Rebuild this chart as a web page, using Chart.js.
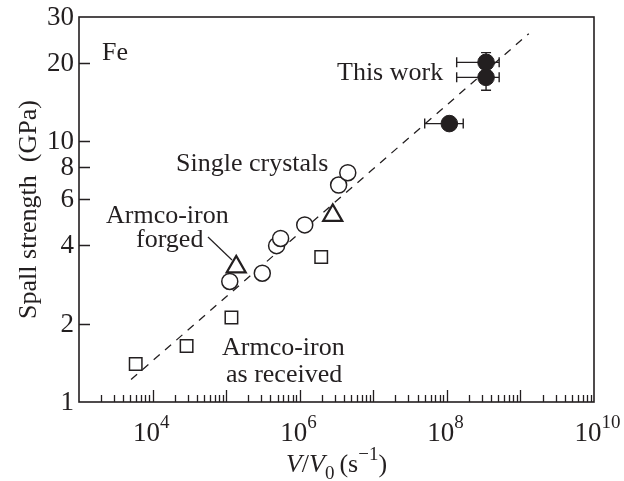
<!DOCTYPE html>
<html>
<head>
<meta charset="utf-8">
<script src="https://cdn.jsdelivr.net/npm/chart.js@4/dist/chart.umd.min.js"></script>
<style>
  html, body { margin: 0; padding: 0; background: #fff; }
  #wrap { width: 624px; height: 481px; }
</style>
</head>
<body>
<div id="wrap"><canvas id="c" width="624" height="481"></canvas></div>
<script>
// Spall strength of iron versus strain rate V/V0 (log-log)

// Single crystals
const crystalRate = [1.12e5, 3.1e5, 4.85e5, 5.5e5, 1.17e6, 3.38e6, 4.5e6];
const crystalStrength = [2.9, 3.12, 3.98, 4.24, 4.78, 6.8, 7.58];

// Armco-iron, forged
const forgedRate = [1.37e5, 2.81e6];
const forgedStrength = [3.3, 5.2];

// Armco-iron, as received
const receivedRate = [5.9e3, 2.9e4, 1.18e5, 1.96e6];
const receivedStrength = [1.40, 1.64, 2.11, 3.6];

// This work, with error ranges
const workRate = [3.41e8, 3.41e8, 1.08e8];
const workStrength = [20.1, 17.6, 11.7];
const workRateLow = [1.36e8, 1.36e8, 5.0e7];
const workRateHigh = [5.14e8, 5.14e8, 1.67e8];
const workStrengthLow = [18.2, 15.7, 11.7];
const workStrengthHigh = [21.9, 19.4, 11.7];

// Dashed trend line end points
const trendRate = [5.1e3, 1.3e9];
const trendStrength = [1.22, 25.9];

// Axis ticks
const yTickValues = [1, 2, 4, 6, 8, 10, 20, 30];
const yTickLabels = ['1', '2', '4', '6', '8', '10', '20', '30'];
const xTickValues = [1e4, 1e6, 1e8, 1e10];
const xTickExponents = ['4', '6', '8', '10'];
const xDecades = [1e3, 1e4, 1e5, 1e6, 1e7, 1e8, 1e9, 1e10];
const minorSteps = [2, 3, 4, 5, 6, 7, 8, 9];

const ink = '#231f20';
const serif = "'Liberation Serif', 'Times New Roman', serif";

const toPoints = (xs, ys) => xs.map((x, i) => ({ x: x, y: ys[i] }));

// Draw a run of text pieces (plain, italic, super/subscript) from a left x
function runWidth(ctx, parts) {
  let w = 0;
  for (const p of parts) {
    ctx.font = (p.italic ? 'italic ' : '') + p.size + 'px ' + serif;
    w += ctx.measureText(p.t).width + (p.gap || 0);
  }
  return w;
}
function drawRun(ctx, parts, x, y) {
  for (const p of parts) {
    ctx.font = (p.italic ? 'italic ' : '') + p.size + 'px ' + serif;
    ctx.fillText(p.t, x, y + (p.dy || 0));
    x += ctx.measureText(p.t).width + (p.gap || 0);
  }
}

const figurePlugin = {
  id: 'figureDecor',
  beforeDatasetsDraw(chart) {
    const { ctx, scales: { x: xs, y: ys } } = chart;
    ctx.save();
    ctx.strokeStyle = ink;
    ctx.lineWidth = 1.4;
    const cap = 5;
    for (let i = 0; i < workRate.length; i++) {
      const py = ys.getPixelForValue(workStrength[i]);
      const px = xs.getPixelForValue(workRate[i]);
      const xl = xs.getPixelForValue(workRateLow[i]);
      const xh = xs.getPixelForValue(workRateHigh[i]);
      ctx.beginPath();
      ctx.moveTo(xl, py); ctx.lineTo(xh, py);
      ctx.moveTo(xl, py - cap); ctx.lineTo(xl, py + cap);
      ctx.moveTo(xh, py - cap); ctx.lineTo(xh, py + cap);
      ctx.stroke();
      if (workStrengthLow[i] !== workStrengthHigh[i]) {
        const yl = ys.getPixelForValue(workStrengthLow[i]);
        const yh = ys.getPixelForValue(workStrengthHigh[i]);
        ctx.beginPath();
        ctx.moveTo(px, yl); ctx.lineTo(px, yh);
        ctx.moveTo(px - cap, yl); ctx.lineTo(px + cap, yl);
        ctx.moveTo(px - cap, yh); ctx.lineTo(px + cap, yh);
        ctx.stroke();
      }
    }
    ctx.restore();
  },
  afterDraw(chart) {
    const { ctx, chartArea: a, scales: { x: xs, y: ys } } = chart;
    ctx.save();
    ctx.strokeStyle = ink;
    ctx.fillStyle = ink;

    // frame
    ctx.lineWidth = 1.6;
    ctx.strokeRect(a.left, a.top, a.right - a.left, a.bottom - a.top);

    // inward tick marks
    ctx.lineWidth = 1.3;
    ctx.beginPath();
    ys.ticks.forEach(t => {
      if (t.value <= ys.min || t.value >= ys.max) return;
      const py = Math.round(ys.getPixelForValue(t.value)) + 0.5;
      ctx.moveTo(a.left, py); ctx.lineTo(a.left + 11, py);
    });
    xDecades.forEach((d, k) => {
      const px = Math.round(xs.getPixelForValue(d)) + 0.5;
      if (k > 0 && k < xDecades.length - 1) {
        ctx.moveTo(px, a.bottom); ctx.lineTo(px, a.bottom - 12);
      }
      if (k < xDecades.length - 1) {
        minorSteps.forEach(m => {
          const q = Math.round(xs.getPixelForValue(d * m)) + 0.5;
          ctx.moveTo(q, a.bottom); ctx.lineTo(q, a.bottom - 7);
        });
      }
    });
    ctx.stroke();

    // y tick labels
    ctx.font = '27px ' + serif;
    ctx.textAlign = 'right';
    ctx.textBaseline = 'middle';
    ys.ticks.forEach(t => {
      const i = yTickValues.indexOf(t.value);
      if (i < 0) return;
      ctx.fillText(yTickLabels[i], a.left - 5, ys.getPixelForValue(t.value) + 1);
    });

    // x tick labels as powers of ten
    ctx.textAlign = 'left';
    ctx.textBaseline = 'alphabetic';
    xs.ticks.forEach(t => {
      const i = xTickValues.indexOf(t.value);
      if (i < 0) return;
      const px = xs.getPixelForValue(t.value);
      ctx.font = '27px ' + serif;
      const wBase = ctx.measureText('10').width;
      drawRun(ctx, [
        { t: '10', size: 27 },
        { t: xTickExponents[i], size: 19, dy: -13 }
      ], px - wBase / 2 - 6, 441);
    });

    // x axis title
    const xTitle = [
      { t: 'V', size: 26, italic: true },
      { t: '/', size: 26 },
      { t: 'V', size: 26, italic: true },
      { t: '0', size: 19, dy: 7, gap: 5 },
      { t: '(s', size: 26 },
      { t: '\u22121', size: 19, dy: -12 },
      { t: ')', size: 26 }
    ];
    const cx = (a.left + a.right) / 2;
    drawRun(ctx, xTitle, cx - runWidth(ctx, xTitle) / 2, 472);

    // y axis title
    ctx.save();
    ctx.translate(36, (a.top + a.bottom) / 2);
    ctx.rotate(-Math.PI / 2);
    ctx.font = '26px ' + serif;
    ctx.textAlign = 'center';
    ctx.fillText('Spall strength  (GPa)', 0, 0);
    ctx.restore();

    // annotations
    ctx.font = '26px ' + serif;
    ctx.textAlign = 'left';
    ctx.fillText('Fe', 102, 60);
    ctx.fillText('This work', 337, 80);
    ctx.fillText('Single crystals', 176, 171);
    ctx.fillText('Armco-iron', 106, 223);
    ctx.fillText('forged', 136, 247);
    ctx.fillText('Armco-iron', 222, 355);
    ctx.fillText('as received', 226, 382);

    // leader to the forged marker
    ctx.lineWidth = 1.2;
    ctx.beginPath();
    ctx.moveTo(208, 237);
    ctx.lineTo(232, 260);
    ctx.stroke();

    ctx.restore();
  }
};

new Chart(document.getElementById('c'), {
  type: 'scatter',
  data: {
    datasets: [
      {
        label: 'Trend',
        type: 'line',
        data: toPoints(trendRate, trendStrength),
        borderColor: ink,
        borderWidth: 1.3,
        borderDash: [8, 7],
        pointRadius: 0,
        fill: false,
        order: 10
      },
      {
        label: 'Armco-iron as received',
        data: toPoints(receivedRate, receivedStrength),
        pointStyle: 'rect',
        pointRadius: 8.8,
        borderWidth: 1.5,
        borderColor: ink,
        backgroundColor: '#fff',
        order: 3
      },
      {
        label: 'Armco-iron forged',
        data: toPoints(forgedRate, forgedStrength),
        pointStyle: 'triangle',
        pointRadius: 11,
        borderWidth: 2.2,
        borderColor: ink,
        backgroundColor: '#fff',
        order: 2
      },
      {
        label: 'Single crystals',
        data: toPoints(crystalRate, crystalStrength),
        pointStyle: 'circle',
        pointRadius: 8,
        borderWidth: 1.5,
        borderColor: ink,
        backgroundColor: '#fff',
        order: 4
      },
      {
        label: 'This work',
        data: toPoints(workRate, workStrength),
        pointStyle: 'circle',
        pointRadius: 8.3,
        borderWidth: 1,
        borderColor: ink,
        backgroundColor: ink,
        order: 1
      }
    ]
  },
  options: {
    responsive: false,
    devicePixelRatio: 1,
    animation: false,
    events: [],
    layout: { padding: { top: 17, right: 30, left: 0, bottom: 0 } },
    plugins: { legend: { display: false }, tooltip: { enabled: false } },
    scales: {
      x: {
        type: 'logarithmic',
        min: 1e3,
        max: 1e10,
        grid: { display: false, drawTicks: false },
        border: { display: false },
        ticks: { display: false },
        afterBuildTicks: s => { s.ticks = xTickValues.map(v => ({ value: v })); },
        afterFit: s => { s.height = 79; }
      },
      y: {
        type: 'logarithmic',
        min: 1,
        max: 30,
        grid: { display: false, drawTicks: false },
        border: { display: false },
        ticks: { display: false },
        afterBuildTicks: s => { s.ticks = yTickValues.map(v => ({ value: v })); },
        afterFit: s => { s.width = 79; }
      }
    }
  },
  plugins: [figurePlugin]
});
</script>
</body>
</html>
